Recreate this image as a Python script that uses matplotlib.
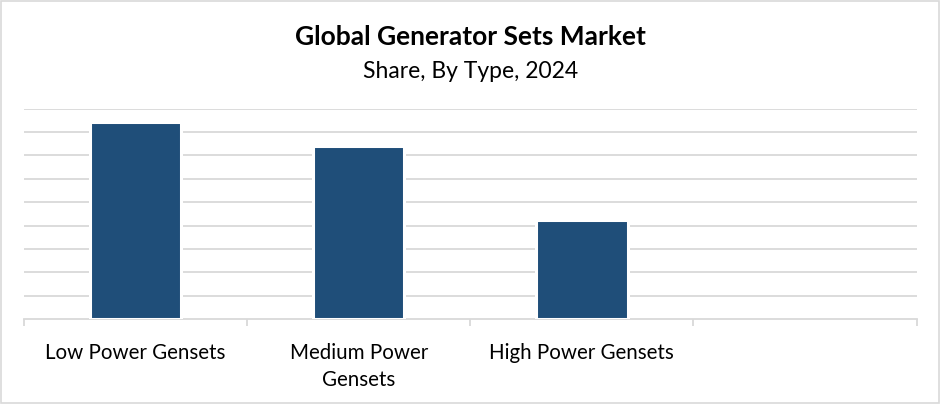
import matplotlib
matplotlib.use("Agg")
import matplotlib.pyplot as plt
from matplotlib.patches import Rectangle

# Données
categories = ["Low Power Gensets", "Medium Power\nGensets", "High Power Gensets"]
share = [42.2, 37.0, 21.2]
n_slots = 4
grid_step = 5
y_max = 45

couleur_barre = "#1F4E79"
gris = "#D9D9D9"

plt.rcParams['font.family'] = ['Lato', 'DejaVu Sans']

fig = plt.figure(figsize=(9.41, 4.04), dpi=100)
ax = fig.add_axes([24 / 941, 85 / 404, (916.5 - 24) / 941, (319 - 108.7) / 404])

# Barres
x = range(len(categories))
ax.bar(x, share, width=0.41, color=couleur_barre, edgecolor="white", linewidth=2.2, zorder=3)

# Axes
ax.set_xlim(-0.5, n_slots - 0.5)
ax.set_ylim(0, y_max)
ax.set_yticks(range(grid_step, y_max + 1, grid_step))
ax.yaxis.grid(True, color=gris, linewidth=1.3, zorder=0)
ax.set_axisbelow(True)
ax.tick_params(axis="y", left=False, labelleft=False)

ax.set_xticks([i - 0.5 for i in range(n_slots + 1)])
ax.set_xticklabels([])
ax.set_xticks(list(x), minor=True)
ax.set_xticklabels(categories, minor=True, fontsize=14.8, color="#000000", linespacing=1.45)
ax.tick_params(axis="x", which="major", length=5, width=1.3, color=gris)
ax.tick_params(axis="x", which="minor", length=0, pad=17)

for side in ["top", "right", "left"]:
    ax.spines[side].set_visible(False)
ax.spines["bottom"].set_color(gris)
ax.spines["bottom"].set_linewidth(1.3)

# Titres
fig.text(0.5, 1 - 37 / 404, "Global Generator Sets Market", ha="center", va="center",
         fontsize=19, fontweight="bold")
fig.text(0.5, 1 - 71 / 404, "Share, By Type, 2024", ha="center", va="center", fontsize=16.5)

# Bordure
fig.patches.append(Rectangle((0.001, 0.002), 0.997, 0.995, transform=fig.transFigure,
                             fill=False, edgecolor=gris, linewidth=1.2))

fig.savefig("out.png", dpi=100)
